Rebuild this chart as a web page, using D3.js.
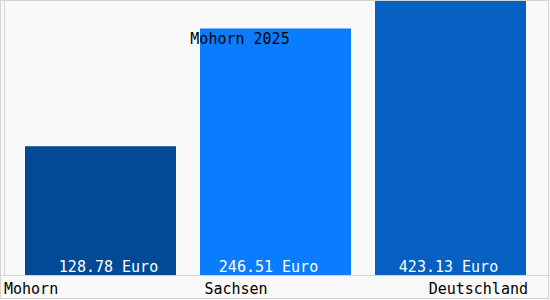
<!DOCTYPE html>
<html>
<head>
<meta charset="utf-8">
<script src="https://cdn.jsdelivr.net/npm/d3@7"></script>
<style>
    body { margin: 0; background: #fff; }
    text { font-family: "DejaVu Sans Mono", monospace; font-size: 15px; }
</style>
</head>
<body>
<script>
    //chart values
    var categories = ["Mohorn", "Sachsen", "Deutschland"];
    var values = [128.78, 246.51, 423.13];
    var unit = "Euro";
    var title = "Mohorn 2025";

    //frame dimensions
    var width = 550, height = 300,
        baseline = 275, plotTop = 1;

    var svg = d3.select("body").append("svg")
        .attr("width", width)
        .attr("height", height);

    //plot background
    svg.append("rect")
        .attr("x", 0).attr("y", 0)
        .attr("width", width).attr("height", height)
        .attr("fill", "#f9f9f9");

    //bands for the bars
    var xScale = d3.scaleBand()
        .domain(categories)
        .range([0.5, 550.5])
        .paddingInner(24 / 175)
        .paddingOuter(0.14);

    //1 px per euro, bars taller than the frame are cut off
    var yScale = d3.scaleLinear()
        .domain([0, baseline - plotTop])
        .range([baseline, plotTop])
        .clamp(true);

    var color = d3.scaleOrdinal()
        .domain(categories)
        .range(["#034a96", "#0a7cff", "#0560c2"]);

    svg.selectAll(".bar")
        .data(values)
        .enter()
        .append("rect")
        .attr("class", "bar")
        .attr("x", function(d, i){ return xScale(categories[i]); })
        .attr("width", xScale.bandwidth())
        .attr("y", function(d){ return yScale(d); })
        .attr("height", function(d){ return baseline - yScale(d); })
        .attr("fill", function(d, i){ return color(categories[i]); });

    //value labels inside bars
    var labelShift = [8, -7, -2];
    svg.selectAll(".valueLabel")
        .data(values)
        .enter()
        .append("text")
        .attr("class", "valueLabel")
        .attr("x", function(d, i){ return xScale(categories[i]) + xScale.bandwidth() / 2 + labelShift[i]; })
        .attr("y", baseline - 3)
        .attr("text-anchor", "middle")
        .attr("fill", "#ffffff")
        .text(function(d){ return d3.format(".2f")(d) + " " + unit; });

    //frame lines
    var lineColor = "#d4d4d4";
    svg.append("line")
        .attr("x1", 0).attr("x2", width)
        .attr("y1", baseline + 0.5).attr("y2", baseline + 0.5)
        .attr("stroke", lineColor);
    svg.append("line")
        .attr("x1", 4.5).attr("x2", 4.5)
        .attr("y1", 0).attr("y2", baseline)
        .attr("stroke", lineColor);
    svg.append("rect")
        .attr("x", 0.5).attr("y", 0.5)
        .attr("width", width - 2).attr("height", height - 2)
        .attr("fill", "none")
        .attr("stroke", lineColor);

    //category labels
    var anchors = ["start", "middle", "end"];
    var labelX = [4, 236, 528];
    svg.selectAll(".catLabel")
        .data(categories)
        .enter()
        .append("text")
        .attr("class", "catLabel")
        .attr("x", function(d, i){ return labelX[i]; })
        .attr("y", 294)
        .attr("text-anchor", function(d, i){ return anchors[i]; })
        .attr("fill", "#000")
        .text(function(d){ return d; });

    //title
    svg.append("text")
        .attr("x", 240)
        .attr("y", 44)
        .attr("text-anchor", "middle")
        .attr("fill", "#000")
        .text(title);
</script>
</body>
</html>
